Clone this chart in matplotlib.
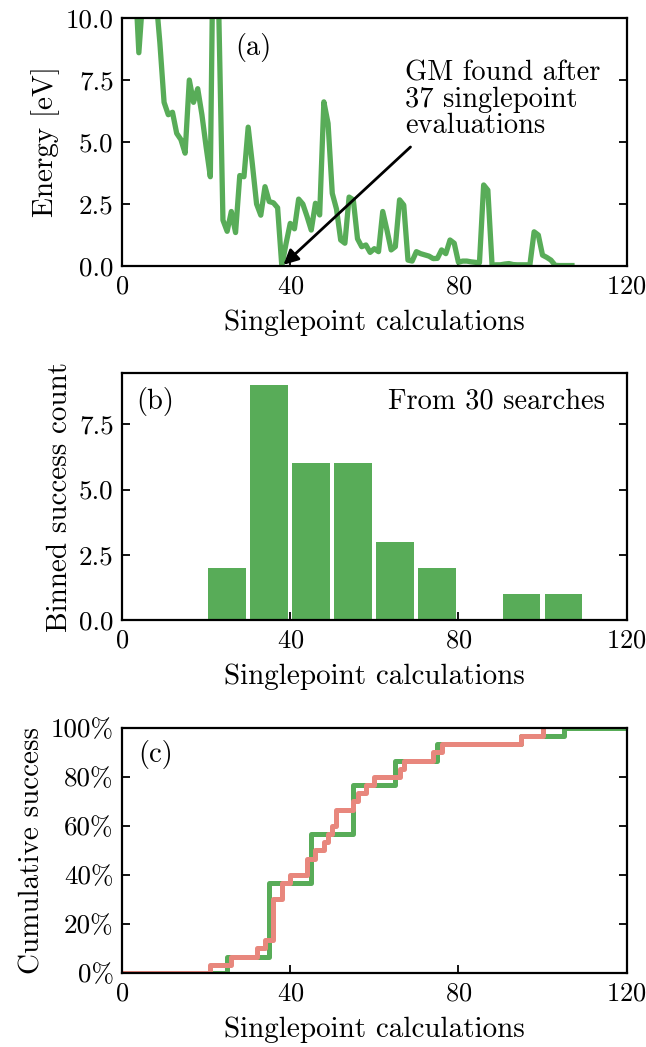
import numpy as np
import matplotlib
matplotlib.use("Agg")
import matplotlib.pyplot as plt
from matplotlib.ticker import PercentFormatter, FormatStrFormatter

plt.rcParams['font.family'] = ['cmr10', 'DejaVu Serif']
plt.rcParams['mathtext.fontset'] = 'cm'
plt.rcParams['axes.formatter.use_mathtext'] = True
plt.rcParams['font.size'] = 20.5
plt.rcParams['axes.labelsize'] = 21
plt.rcParams['xtick.labelsize'] = 19
plt.rcParams['ytick.labelsize'] = 19.5

GREEN = '#58ac58'
RED = '#e8877d'

# ---- data ----
steps = list(range(1, 108))
energy = [13, 12, 12, 8.6, 11, 13, 12, 11, 9.0, 6.6,
          6.1, 6.2, 5.35, 5.1, 4.55, 7.5, 6.6, 7.15, 6.1, 4.8,
          3.6, 18, 10.3, 1.85, 1.4, 2.2, 1.35, 3.65, 3.6, 5.6,
          4.1, 2.5, 2.05, 3.2, 2.6, 2.55, 2.35, 0.0, 0.9, 1.72,
          1.5, 2.7, 2.5, 2.0, 1.45, 2.53, 2.06, 6.62, 5.75, 2.93,
          2.3, 1.05, 0.92, 2.78, 2.67, 1.1, 0.78, 0.85, 0.55, 0.7,
          0.58, 2.2, 1.45, 0.65, 0.78, 2.67, 2.46, 0.24, 0.2, 0.58,
          0.5, 0.45, 0.4, 0.3, 0.31, 0.65, 0.5, 1.05, 0.92, 0.15,
          0.2, 0.2, 0.17, 0.15, 0.13, 3.27, 3.06, 0.04, 0.05, 0.05,
          0.08, 0.1, 0.06, 0.05, 0.05, 0.05, 0.05, 1.38, 1.25, 0.44,
          0.35, 0.24, 0.03, 0.02, 0.02, 0.02, 0.02]
gm_step = 38

success_steps = [21, 26, 32, 34, 36, 36, 36, 36, 36, 38, 38, 40, 44, 44, 46,
                 48, 49, 50, 51, 51, 55, 56, 58, 60, 66, 67, 74, 76, 95, 100]
bin_edges = [20, 30, 40, 50, 60, 70, 80, 90, 100, 110]
n_searches = len(success_steps)

counts, _ = np.histogram(success_steps, bins=bin_edges)
centers = [(bin_edges[i] + bin_edges[i + 1]) / 2 for i in range(len(bin_edges) - 1)]

fig = plt.figure(figsize=(6.46, 10.47), dpi=100)
L, R = 0.1889, 0.9700
ax_a = fig.add_axes([L, 0.7459, R - L, 0.9828 - 0.7459])
ax_b = fig.add_axes([L, 0.4078, R - L, 0.6434 - 0.4078])
ax_c = fig.add_axes([L, 0.0707, R - L, 0.3047 - 0.0707])

for ax in (ax_a, ax_b, ax_c):
    ax.tick_params(direction='in', left=True, right=True, top=False, bottom=True,
                   length=6, width=1.3, pad=6)
    for s in ax.spines.values():
        s.set_linewidth(1.6)
    ax.set_xlim(0, 120)
    ax.set_xticks([0, 40, 80, 120])
    ax.set_xlabel('Singlepoint calculations', labelpad=8)

# (a)
ax_a.plot(steps, energy, color=GREEN, lw=3.8)
ax_a.set_ylim(0, 10)
ax_a.set_yticks([0, 2.5, 5, 7.5, 10])
ax_a.yaxis.set_major_formatter(FormatStrFormatter('%.1f'))
ax_a.set_ylabel('Energy [eV]')
ax_a.text(0.224, 0.883, '(a)', transform=ax_a.transAxes, ha='left', va='center')
ax_a.text(67.4, 8.3, 'GM found after\n37 singlepoint\nevaluations',
          ha='left', va='top', linespacing=1.0)
ax_a.annotate('', xy=(gm_step + 0.4, 0.05), xytext=(68.6, 4.8),
              arrowprops=dict(arrowstyle='-|>', color='black', lw=2,
                              mutation_scale=22, shrinkA=0, shrinkB=0))

# (b)
ax_b.bar(centers, counts, width=9, color=GREEN)
ax_b.set_ylim(0, max(counts) * 1.05)
ax_b.set_yticks([0, 2.5, 5, 7.5])
ax_b.yaxis.set_major_formatter(FormatStrFormatter('%.1f'))
ax_b.set_ylabel('Binned success count')
ax_b.text(0.029, 0.885, '(b)', transform=ax_b.transAxes, ha='left', va='center')
ax_b.text(0.958, 0.886, 'From %d searches' % n_searches, transform=ax_b.transAxes,
          ha='right', va='center')

# (c)
cum_bins = np.cumsum(counts) / n_searches
gx = [0] + centers + [120]
gy = [0] + list(cum_bins) + [cum_bins[-1]]
ax_c.plot(gx, gy, drawstyle='steps-post', color=GREEN, lw=3.6)
rx = [0] + success_steps
ry = [0] + list(np.arange(1, n_searches + 1) / n_searches)
ax_c.plot(rx, ry, drawstyle='steps-post', color=RED, lw=3.6)
ax_c.set_ylim(0, 1)
ax_c.set_yticks([0, 0.2, 0.4, 0.6, 0.8, 1.0])
ax_c.yaxis.set_major_formatter(PercentFormatter(1.0, decimals=0))
ax_c.set_ylabel('Cumulative success')
ax_c.text(0.033, 0.89, '(c)', transform=ax_c.transAxes, ha='left', va='center')

fig.savefig('out.png', dpi=100)
